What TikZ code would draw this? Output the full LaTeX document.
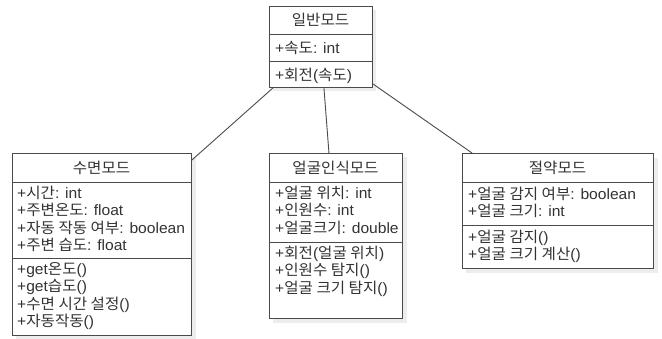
\documentclass[tikz,border=0pt]{standalone}
\usepackage{fontspec}
\setmainfont{Liberation Sans}[FakeStretch=1.04]
\newfontfamily\krf{Noto Sans CJK KR}[FakeStretch=1.04]
\newcommand\K[1]{{\krf #1}}
\definecolor{lc}{HTML}{4A4A4A}
\definecolor{tc}{HTML}{333333}
\definecolor{shd}{HTML}{EDEDED}
\begin{document}
\begin{tikzpicture}[x=1pt,y=-1pt,
  umlbox/.style={draw=lc, line width=0.9pt, fill=white, inner sep=0pt, anchor=north west},
  sep/.style={draw=lc, line width=0.9pt},
  conn/.style={draw=lc, line width=0.9pt},
  txt/.style={anchor=base west, inner sep=0pt, text=tc, font=\fontsize{15}{17}\selectfont},
  ttl/.style={anchor=base, inner sep=0pt, text=tc, font=\fontsize{15}{17}\selectfont}]
\useasboundingbox (0,0) rectangle (662,338);
% shadows
\fill[shd] (16,157) rectangle (196,339);
\fill[shd] (273,157) rectangle (407,323);
\fill[shd] (466,158) rectangle (658,273);
\fill[shd] (273,10) rectangle (376,91);
% general
\node[umlbox, minimum width=103pt, minimum height=81pt] (gen) at (269,6) {};
\draw[sep] (gen.west |- 0,34) -- (gen.east |- 0,34);
\draw[sep] (gen.west |- 0,61) -- (gen.east |- 0,61);
\node[ttl] (gent) at (320.5,25) {\K{일반모드}};
\node[txt] (gena) at (275,53) {+\K{속도}: int};
\node[txt] (genm) at (275,80) {+\K{회전}(\K{속도})};
% sleep
\node[umlbox, minimum width=179pt, minimum height=182pt] (slp) at (12,153) {};
\draw[sep] (slp.west |- 0,182) -- (slp.east |- 0,182);
\draw[sep] (slp.west |- 0,258) -- (slp.east |- 0,258);
\node[ttl] (slpt) at (101.5,173) {\K{수면모드}};
\node[txt] (slpa1) at (17,198) {+\K{시간}: int};
\node[txt] (slpa2) at (17,215.5) {+\K{주변온도}: float};
\node[txt] (slpa3) at (17,233) {+\K{자동 작동 여부}: boolean};
\node[txt] (slpa4) at (17,250.5) {+\K{주변 습도}: float};
\node[txt] (slpm1) at (17,274) {+get\K{온도}()};
\node[txt] (slpm2) at (17,291.5) {+get\K{습도}()};
\node[txt] (slpm3) at (17,309) {+\K{수면 시간 설정}()};
\node[txt] (slpm4) at (17,326.5) {+\K{자동작동}()};
% face
\node[umlbox, minimum width=133pt, minimum height=165pt] (face) at (269,153) {};
\draw[sep] (face.west |- 0,182) -- (face.east |- 0,182);
\draw[sep] (face.west |- 0,242) -- (face.east |- 0,242);
\node[ttl] (facet) at (335.5,173) {\K{얼굴인식모드}};
\node[txt] (facea1) at (275,198) {+\K{얼굴 위치}: int};
\node[txt] (facea2) at (275,215.5) {+\K{인원수}: int};
\node[txt] (facea3) at (275,233) {+\K{얼굴크기}: double};
\node[txt] (facem1) at (275,258) {+\K{회전}(\K{얼굴 위치})};
\node[txt] (facem2) at (275,275.5) {+\K{인원수 탐지}()};
\node[txt] (facem3) at (275,293) {+\K{얼굴 크기 탐지}()};
% save
\node[umlbox, minimum width=191pt, minimum height=115pt] (save) at (462,153) {};
\draw[sep] (save.west |- 0,182) -- (save.east |- 0,182);
\draw[sep] (save.west |- 0,225) -- (save.east |- 0,225);
\node[ttl] (savet) at (557.5,173) {\K{절약모드}};
\node[txt] (savea1) at (468,199) {+\K{얼굴 감지 여부}: boolean};
\node[txt] (savea2) at (468,216.5) {+\K{얼굴 크기}: int};
\node[txt] (savem1) at (468,242) {+\K{얼굴 감지}()};
\node[txt] (savem2) at (468,259.5) {+\K{얼굴 크기 계산}()};
% connectors
\draw[conn] ([xshift=4pt]gen.south west) -- ([yshift=-7pt]slp.north east);
\draw[conn] ([xshift=3pt]gen.south) -- ([xshift=-7pt]face.north);
\draw[conn] ([yshift=4pt]gen.south east) -- ([xshift=10pt]save.north west);
\end{tikzpicture}
\end{document}
